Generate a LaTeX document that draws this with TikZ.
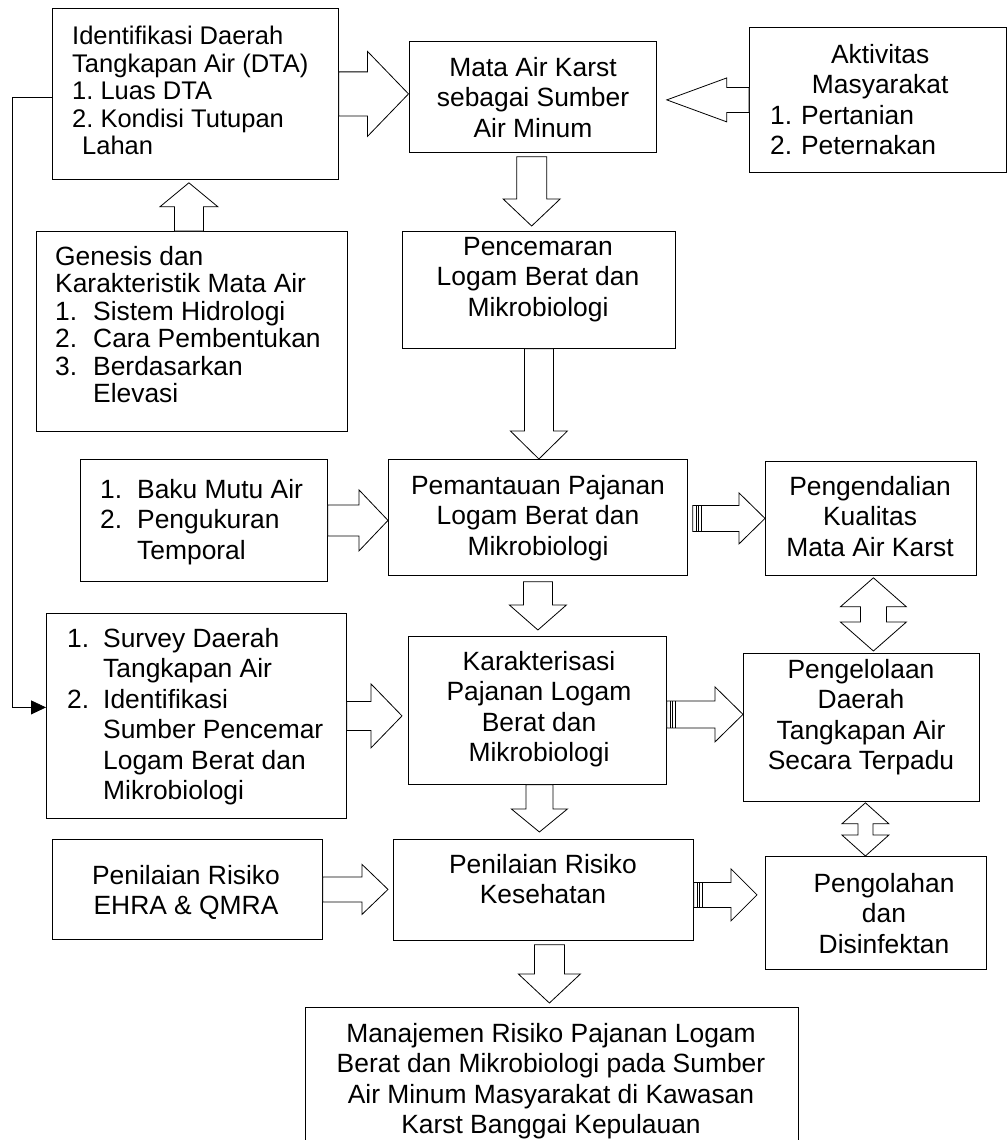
\documentclass[tikz,border=0pt]{standalone}
\usepackage{fontspec}
\setmainfont{Liberation Sans}
\usetikzlibrary{calc,arrows.meta}
\frenchspacing
\tikzset{
  box/.style={draw, line width=0.8pt, inner sep=0pt, anchor=north west},
  txt/.style={inner sep=0pt, anchor=north, align=center, font=\fontsize{26.4pt}{30.5pt}\selectfont},
  ltxt/.style={txt, anchor=north west, align=left},
  blk/.style={draw, fill=white, line width=0.8pt, line join=miter},
}
% block arrows: start, tip, shaft half width, head half width, head length
\newcommand{\harr}[5]{%
  \draw[blk] let \p1=#1, \p2=#2 in
    (\x1,{\y2+#3pt}) -- ({\x2-(#5pt)},{\y2+#3pt}) -- ({\x2-(#5pt)},{\y2+#4pt}) -- (\x2,\y2)
    -- ({\x2-(#5pt)},{\y2-#4pt}) -- ({\x2-(#5pt)},{\y2-#3pt}) -- (\x1,{\y2-#3pt}) -- cycle;}
\newcommand{\varr}[5]{%
  \draw[blk] let \p1=#1, \p2=#2 in
    ({\x2+#3pt},\y1) -- ({\x2+#3pt},{\y2+(#5pt)}) -- ({\x2+#4pt},{\y2+(#5pt)}) -- (\x2,\y2)
    -- ({\x2-#4pt},{\y2+(#5pt)}) -- ({\x2-#3pt},{\y2+(#5pt)}) -- ({\x2-#3pt},\y1) -- cycle;}
\newcommand{\darr}[5]{%
  \draw[blk] let \p1=#1, \p2=#2 in
    (\x1,\y1) -- ({\x1+#4pt},{\y1-#5pt}) -- ({\x1+#3pt},{\y1-#5pt}) -- ({\x1+#3pt},{\y2+#5pt})
    -- ({\x1+#4pt},{\y2+#5pt}) -- (\x1,\y2) -- ({\x1-#4pt},{\y2+#5pt}) -- ({\x1-#3pt},{\y2+#5pt})
    -- ({\x1-#3pt},{\y1-#5pt}) -- ({\x1-#4pt},{\y1-#5pt}) -- cycle;}
\newcommand{\stripes}[2]{%
  \draw[line width=0.6pt] let \p1=#1 in
    ({\x1+3pt},{\y1-#2pt}) -- ({\x1+3pt},{\y1+#2pt})
    ({\x1+5.5pt},{\y1-#2pt}) -- ({\x1+5.5pt},{\y1+#2pt})
    ({\x1+8pt},{\y1-#2pt}) -- ({\x1+8pt},{\y1+#2pt});}
\newcommand{\itm}[2]{\makebox[#1pt][l]{#2}}
\begin{document}
\begin{tikzpicture}[x=1pt, y=-1pt]
\clip (0,0) rectangle (1008,1140);
\node[box, minimum width=286pt, minimum height=171pt] (idbox) at (52,8) {};
\node[box, minimum width=247.5pt, minimum height=111pt] (mata) at (408.5,41) {};
\node[box, minimum width=257pt, minimum height=145pt] (aktiv) at (749,27) {};
\node[box, minimum width=311pt, minimum height=200pt] (genesis) at (36,231) {};
\node[box, minimum width=273pt, minimum height=117pt] (pence) at (402,231) {};
\node[box, minimum width=247pt, minimum height=122pt] (baku) at (80,459) {};
\node[box, minimum width=299pt, minimum height=116pt] (peman) at (388,459) {};
\node[box, minimum width=211pt, minimum height=114pt] (pengen) at (765,461) {};
\node[box, minimum width=300pt, minimum height=205pt] (survey) at (46,613) {};
\node[box, minimum width=258pt, minimum height=148pt] (karak) at (408,636) {};
\node[box, minimum width=236pt, minimum height=148pt] (pengel) at (743,653) {};
\node[box, minimum width=270pt, minimum height=100pt] (ehra) at (52,839) {};
\node[box, minimum width=300pt, minimum height=101pt] (kesehe) at (393,839) {};
\node[box, minimum width=221pt, minimum height=113pt] (pengol) at (765,856) {};
\node[box, minimum width=493pt, minimum height=150pt] (manaj) at (305,1007) {};

\node[ltxt, font=\fontsize{25.5pt}{27.5pt}\selectfont] (idbox-t) at (72,26)
  {Identifikasi Daerah\\Tangkapan Air (DTA)\\1. Luas DTA\\2. Kondisi Tutupan\\\hspace*{10pt}Lahan};
\node[txt] (mata-t) at (533,57) {Mata Air Karst\\sebagai Sumber\\Air Minum};
\node[ltxt, text width=220pt] (aktiv-t) at (770,44)
  {{\centering Aktivitas\\Masyarakat\par}1. Pertanian\\2. Peternakan};
\node[ltxt, font=\fontsize{26.4pt}{27.5pt}\selectfont] (genesis-t) at (55,246)
  {Genesis dan\\Karakteristik Mata Air\\\itm{38}{1.}Sistem Hidrologi\\\itm{38}{2.}Cara Pembentukan\\\itm{38}{3.}Berdasarkan\\\hspace*{38pt}Elevasi};
\node[txt] (pence-t) at (538,237) {Pencemaran\\Logam Berat dan\\Mikrobiologi};
\node[ltxt] (baku-t) at (100,479) {\itm{37}{1.}Baku Mutu Air\\\itm{37}{2.}Pengukuran\\\hspace*{37pt}Temporal};
\node[txt] (peman-t) at (538,475) {Pemantauan Pajanan\\Logam Berat dan\\Mikrobiologi};
\node[txt] (pengen-t) at (870,476) {Pengendalian\\Kualitas\\Mata Air Karst};
\node[ltxt] (survey-t) at (67,628)
  {\itm{36}{1.}Survey Daerah\\\hspace*{36pt}Tangkapan Air\\\itm{36}{2.}Identifikasi\\\hspace*{36pt}Sumber Pencemar\\\hspace*{36pt}Logam Berat dan\\\hspace*{36pt}Mikrobiologi};
\node[txt] (karak-t) at (539,651) {Karakterisasi\\Pajanan Logam\\Berat dan\\Mikrobiologi};
\node[txt] (pengel-t) at (861,659) {Pengelolaan\\Daerah\\Tangkapan Air\\Secara Terpadu};
\node[txt] (ehra-t) at (186,865) {Penilaian Risiko\\EHRA \& QMRA};
\node[txt] (kesehe-t) at (543,854) {Penilaian Risiko\\Kesehatan};
\node[txt] (pengol-t) at (884,873) {Pengolahan\\dan\\Disinfektan};
\node[txt] (manaj-t) at (551,1023)
  {Manajemen Risiko Pajanan Logam\\Berat dan Mikrobiologi pada Sumber\\Air Minum Masyarakat di Kawasan\\Karst Banggai Kepulauan};

\harr{(idbox.east)}{(mata.west |- idbox.east)}{22}{42.5}{41}
\harr{(aktiv.west)}{($(mata.east |- aktiv.west)+(10,0)$)}{12.5}{22}{-60}
\varr{($(genesis.north)+(-3,0)$)}{($(idbox.south -| genesis.north)+(-3,3)$)}{14.5}{29}{-24}
\varr{($(mata.south)+(-1,4)$)}{($(pence.north -| mata.south)+(-1,-5)$)}{15}{28.5}{27}
\varr{(pence.south)}{(peman.north -| pence.south)}{14.5}{28.5}{28}
\harr{(baku.east)}{(peman.west |- baku.east)}{15.5}{30.5}{29}
\harr{($(peman.east |- pengen.west)+(5,0)$)}{(pengen.west)}{13}{25.5}{26}
\stripes{($(peman.east |- pengen.west)+(5,0)$)}{13}
\varr{($(peman.south)+(0,6)$)}{($(karak.north -| peman.south)+(0,-6)$)}{14.5}{28.5}{25}
\darr{($(pengen.south)+(2.5,2)$)}{($(pengel.north -| pengen.south)+(2.5,-2)$)}{13}{33}{29}
\harr{(survey.east)}{($(karak.west |- survey.east)+(-6,0)$)}{14.5}{32}{31}
\harr{($(karak.east)+(0,4)$)}{($(pengel.west |- karak.east)+(0,4)$)}{13.5}{27.5}{28}
\stripes{($(karak.east)+(0,4)$)}{13.5}
\varr{($(karak.south)+(2,0)$)}{($(kesehe.north -| karak.south)+(2,-7)$)}{13.5}{28}{23}
\darr{($(pengel.south)+(4,1)$)}{($(pengol.north -| pengel.south)+(4,0)$)}{7.5}{23.5}{21}
\harr{(ehra.east)}{($(kesehe.west |- ehra.east)+(-5,0)$)}{12.5}{25}{26}
\harr{($(kesehe.east)+(0,5)$)}{($(pengol.west |- kesehe.east)+(-8,5)$)}{12.5}{26}{26}
\stripes{($(kesehe.east)+(0,5)$)}{12.5}
\varr{($(kesehe.south)+(6,4)$)}{($(manaj.north -| kesehe.south)+(6,-4)$)}{15}{31}{29}

\draw[line width=0.8pt, -{Triangle[length=15pt,width=14pt]}]
  ($(idbox.west)+(0,3)$) -- ++(-40,0) |- ($(survey.west)+(0,-8.5)$);
\end{tikzpicture}
\end{document}
